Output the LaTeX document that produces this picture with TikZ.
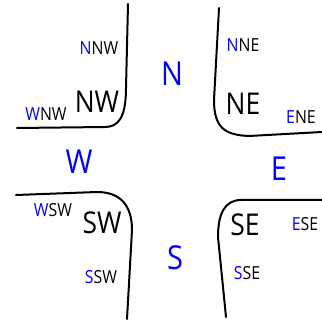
\documentclass[tikz,border=0pt]{standalone}
\usepackage{fontspec}
\setmainfont{Open Sans}

\tikzset{
  wall/.style={line width=2pt,black,line cap=round},
  cardinal/.style={blue,inner sep=0pt,xscale=0.88,transform shape,font=\fontsize{33}{33}\selectfont},
  ordinal/.style={black,inner sep=0pt,xscale=0.88,transform shape,font=\fontsize{30}{30}\selectfont},
  minor/.style={black,inner sep=0pt,xscale=0.88,transform shape,font=\fontsize{18}{18}\selectfont},
}
\newcommand{\lead}[1]{\textcolor{blue}{#1}}

\begin{document}
\begin{tikzpicture}[x=1pt,y=-1pt]
  \useasboundingbox (0,0) rectangle (322,321);
  \draw[wall] (128,4) -- (126,88) .. controls (126,118) and (118,127) .. (105,127) -- (17,128);
  \draw[wall] (219,8) -- (214,100) .. controls (214,128) and (225,135) .. (249,136) -- (322,132);
  \draw[wall] (16,195) -- (97,192) .. controls (120,192) and (132,205) .. (132,230) -- (127,319);
  \draw[wall] (322,200) -- (241,200) .. controls (224,200) and (218,215) .. (218,237) -- (226,317);
  \node[cardinal] (n) at (172,74) {N};
  \node[cardinal] (w) at (79,162) {W};
  \node[cardinal] (e) at (279,169) {E};
  \node[cardinal] (s) at (175,258) {S};
  \node[ordinal] (nw) at (97,102) {NW};
  \node[ordinal] (ne) at (243,104) {NE};
  \node[ordinal] (sw) at (102,223) {SW};
  \node[ordinal] (se) at (245,225) {SE};
  \node[minor] (nnw) at (99,48) {\lead{N}NW};
  \node[minor] (wnw) at (46,114) {\lead{W}NW};
  \node[minor] (nne) at (243,45) {\lead{N}NE};
  \node[minor] (ene) at (301,117) {\lead{E}NE};
  \node[minor] (wsw) at (53,210) {\lead{W}SW};
  \node[minor] (ssw) at (101,277) {\lead{S}SW};
  \node[minor] (ese) at (305,224) {\lead{E}SE};
  \node[minor] (sse) at (247,273) {\lead{S}SE};
\end{tikzpicture}
\end{document}
